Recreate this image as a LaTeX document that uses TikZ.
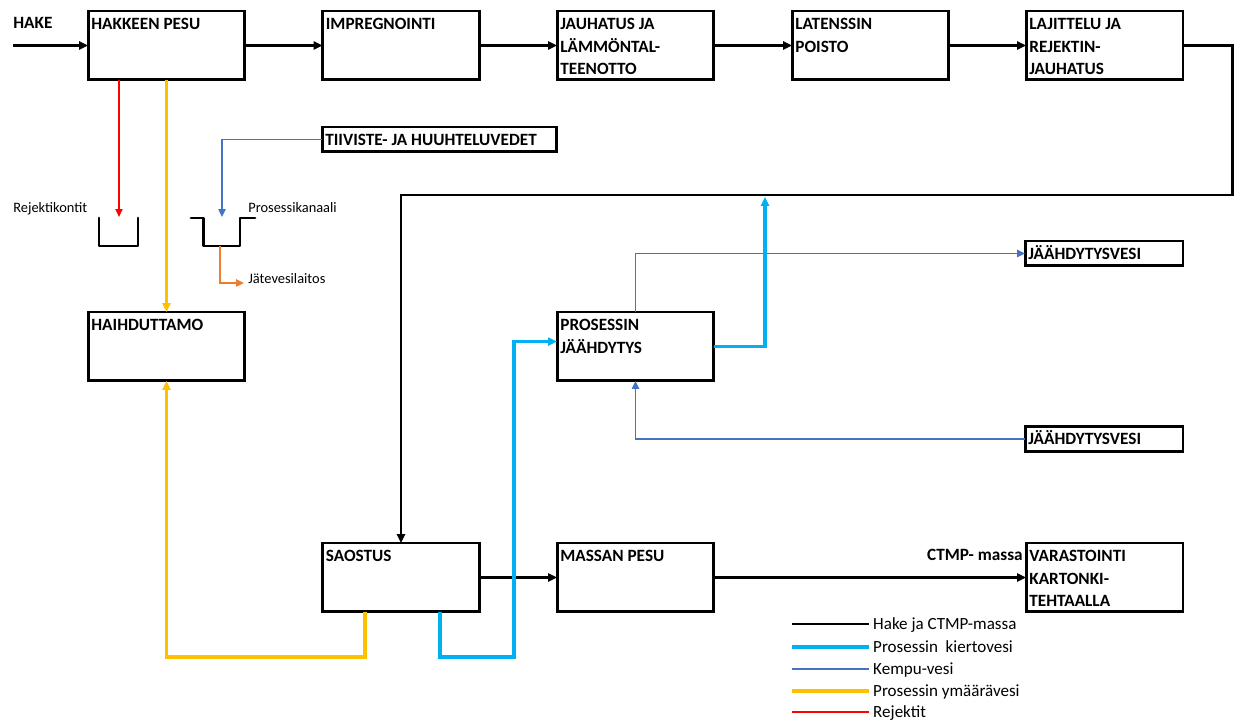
\documentclass[tikz,border=0pt]{standalone}
\usepackage{fontspec}
\setmainfont{Carlito}
\usetikzlibrary{arrows.meta}
\definecolor{vkierto}{HTML}{00B0F0}
\definecolor{vkempu}{HTML}{4472C4}
\definecolor{keltainen}{HTML}{FFC000}
\definecolor{punainen}{HTML}{FF0000}
\definecolor{oranssi}{HTML}{ED7D31}
\tikzset{
  lohko/.style={draw, line width=1.7pt, minimum width=3.14cm, minimum height=1.38cm,
                inner sep=0pt, outer sep=0pt},
  pieni/.style={lohko, minimum height=0.5cm},
  teksti/.style={anchor=north west, align=left, inner xsep=1.7pt, inner ysep=1.1pt,
                 font=\bfseries\fontsize{9.8}{13}\selectfont},
  nimi/.style={inner sep=0pt, font=\bfseries\fontsize{9.8}{13}\selectfont},
  pikku/.style={inner sep=0pt, font=\fontsize{8.2}{10}\selectfont},
  selite/.style={anchor=west, inner xsep=2.2pt, inner ysep=0pt, text height=6.3pt,
                 text depth=0pt, font=\fontsize{9.7}{13}\selectfont},
  hake/.style={draw=black, line width=1.7pt, -{Triangle[length=5pt,width=4.5pt]}},
  kierto/.style={draw=vkierto, line width=1.8pt, -{Triangle[length=5pt,width=4.5pt]}},
  kempu/.style={draw=vkempu, line width=1.1pt, -{Triangle[length=4.5pt,width=4pt]}},
  ymv/.style={draw=keltainen, line width=1.8pt, -{Triangle[length=5pt,width=4.5pt]}},
  rejekti/.style={draw=punainen, line width=0.9pt, -{Triangle[length=4.5pt,width=4pt]}},
  jate/.style={draw=oranssi, line width=1.1pt, -{Triangle[length=4.5pt,width=4pt]}},
  kontti/.style={draw=black, line width=1.7pt, line join=round, line cap=round}
}

\begin{document}
\begin{tikzpicture}[x=0.02cm, y=-0.02cm]
  \useasboundingbox (0,0) rectangle (1238,722);

  % prosessin lohkot
  \node[lohko, label={[teksti]north west:{\strut HAKKEEN PESU}}] (hpesu) at (166.5,45.5) {};
  \node[lohko, label={[teksti]north west:{\strut IMPREGNOINTI}}] (impreg) at (401,45.5) {};
  \node[lohko, label={[teksti]north west:{\strut JAUHATUS JA\\LÄMMÖNTAL-\\TEENOTTO}}] (jauhatus) at (635.5,45.5) {};
  \node[lohko, label={[teksti]north west:{\strut LATENSSIN\\POISTO}}] (latenssi) at (870.5,45.5) {};
  \node[lohko, label={[teksti]north west:{\strut LAJITTELU JA\\REJEKTIN-\\JAUHATUS}}] (lajittelu) at (1104.5,45.5) {};
  \node[pieni, minimum width=4.7cm, label={[teksti]north west:{\strut TIIVISTE- JA HUUHTELUVEDET}}] (tiiviste) at (439.5,139.5) {};
  \node[lohko, label={[teksti]north west:{\strut HAIHDUTTAMO}}] (haihd) at (166.5,346.5) {};
  \node[lohko, label={[teksti]north west:{\strut PROSESSIN\\JÄÄHDYTYS}}] (prjaah) at (635.5,346.5) {};
  \node[pieni, minimum width=3.16cm, label={[teksti]north west:{\strut JÄÄHDYTYSVESI}}] (jvesiylä) at (1104,253.5) {};
  \node[pieni, minimum width=3.16cm, label={[teksti]north west:{\strut JÄÄHDYTYSVESI}}] (jvesiala) at (1104,439) {};
  \node[lohko, label={[teksti]north west:{\strut SAOSTUS}}] (saostus) at (401,577.5) {};
  \node[lohko, label={[teksti]north west:{\strut MASSAN PESU}}] (mpesu) at (635.5,577.5) {};
  \node[lohko, label={[teksti]north west:{\strut VARASTOINTI\\KARTONKI-\\TEHTAALLA}}] (varasto) at (1104.5,577.5) {};

  % tekstit
  \node[nimi, anchor=base west] (haketeksti) at (13,29) {HAKE};
  \node[nimi, anchor=base east] (ctmp) at (1023,561) {CTMP- massa};
  \node[pikku, anchor=base west] (rejkontit) at (13,213) {Rejektikontit};
  \node[pikku, anchor=base west] (kanaali) at (248,213) {Prosessikanaali};
  \node[pikku, anchor=base west] (jvlaitos) at (248,283.5) {Jätevesilaitos};

  % kontit
  \draw[kontti] (99,218) -- (99,246) -- (138,246) -- (138,218);
  \draw[kontti] (191,218) -- (203.5,218) -- (203.5,246) -- (240,246) -- (240,218) -- (255,218);

  \coordinate (hakesisaan) at (13,45.5);
  \coordinate (paluu) at (1232,195);
  \coordinate (rejkontti) at (119,217);
  \coordinate (kanava) at (222,217);
  \coordinate (kanavapohja) at (220,246);
  \coordinate (jatevesi) at (244,283);
  \coordinate (kiertoylos) at (765,197);

  % hake ja massa
  \draw[hake] (hakesisaan) -- (hpesu.west);
  \draw[hake] (hpesu.east) -- (impreg.west);
  \draw[hake] (impreg.east) -- (jauhatus.west);
  \draw[hake] (jauhatus.east) -- (latenssi.west);
  \draw[hake] (latenssi.east) -- (lajittelu.west);
  \draw[hake] (lajittelu.east) -| (paluu) -| (saostus.north);
  \draw[hake] (saostus.east) -- (mpesu.west);
  \draw[hake] (mpesu.east) -- (varasto.west);

  % vedet
  \draw[rejekti] (hpesu.south -| rejkontti) -- (rejkontti);
  \draw[ymv] (hpesu.south) -- (haihd.north);
  \draw[ymv] (saostus.south -| 365,0) -- ++(0,45) -| (haihd.south);
  \draw[kempu] (tiiviste.west) -| (kanava);
  \draw[jate] (kanavapohja) |- (jatevesi);
  \draw[kempu] (prjaah.north) |- (jvesiylä.west);
  \draw[kempu] (jvesiala.west) -| (prjaah.south);
  \draw[kierto] (saostus.south -| 440,0) |- (514,657) |- ([yshift=2.8pt]prjaah.west);
  \draw[kierto] (prjaah.east) -| (kiertoylos);

  % selitteet
  \foreach \tyyli/\teksti/\yy in {hake/Hake ja CTMP-massa/624, kierto/Prosessin\ \ kiertovesi/647,
      kempu/Kempu-vesi/669, ymv/Prosessin ymäärävesi/691, rejekti/Rejektit/712}
  {
    \node[selite] (sel\tyyli) at (869,\yy) {\teksti};
    \draw[\tyyli, -] (792,\yy) -- (sel\tyyli.west);
  }
\end{tikzpicture}
\end{document}
